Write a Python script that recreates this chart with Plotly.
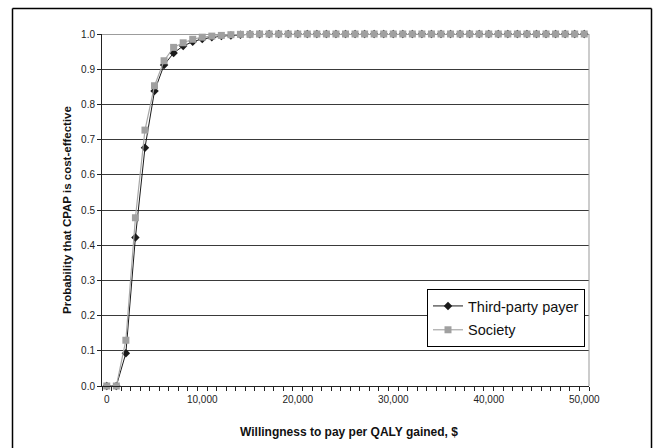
import plotly.graph_objects as go

wtp = [0, 1000, 2000, 3000, 4000, 5000, 6000, 7000, 8000, 9000,
       10000, 11000, 12000, 13000, 14000, 15000, 16000, 17000, 18000, 19000,
       20000, 21000, 22000, 23000, 24000, 25000, 26000, 27000, 28000, 29000,
       30000, 31000, 32000, 33000, 34000, 35000, 36000, 37000, 38000, 39000,
       40000, 41000, 42000, 43000, 44000, 45000, 46000, 47000, 48000, 49000,
       50000]

third_party = [0.0, 0.0, 0.093, 0.422, 0.677, 0.838, 0.912, 0.946, 0.966, 0.978,
               0.986, 0.991, 0.994, 0.996, 0.998, 0.999, 0.999, 1.0, 1.0, 1.0,
               1.0, 1.0, 1.0, 1.0, 1.0, 1.0, 1.0, 1.0, 1.0, 1.0,
               1.0, 1.0, 1.0, 1.0, 1.0, 1.0, 1.0, 1.0, 1.0, 1.0,
               1.0, 1.0, 1.0, 1.0, 1.0, 1.0, 1.0, 1.0, 1.0, 1.0,
               1.0]

society = [0.0, 0.0, 0.13, 0.478, 0.727, 0.853, 0.924, 0.962, 0.975, 0.985,
           0.991, 0.994, 0.996, 0.998, 0.999, 0.999, 1.0, 1.0, 1.0, 1.0,
           1.0, 1.0, 1.0, 1.0, 1.0, 1.0, 1.0, 1.0, 1.0, 1.0,
           1.0, 1.0, 1.0, 1.0, 1.0, 1.0, 1.0, 1.0, 1.0, 1.0,
           1.0, 1.0, 1.0, 1.0, 1.0, 1.0, 1.0, 1.0, 1.0, 1.0,
           1.0]

x_tick_vals = [0, 10000, 20000, 30000, 40000, 50000]
x_tick_text = ["0", "10,000", "20,000", "30,000", "40,000", "50,000"]
y_tick_vals = [0.0, 0.1, 0.2, 0.3, 0.4, 0.5, 0.6, 0.7, 0.8, 0.9, 1.0]

FONT = "Liberation Sans, Arial, sans-serif"

fig = go.Figure()
fig.add_trace(go.Scatter(
    x=wtp, y=third_party, name="Third-party payer", mode="lines+markers",
    line=dict(color="#1a1a1a", width=1),
    marker=dict(symbol="diamond", size=6.5, color="#1a1a1a"),
    cliponaxis=False, legendgroup="a"))
fig.add_trace(go.Scatter(
    x=wtp, y=society, name="Society", mode="lines+markers",
    line=dict(color="#a8a8a8", width=1.2),
    marker=dict(symbol="square", size=7, color="#a0a0a0"),
    cliponaxis=False, legendgroup="b"))

L, W, T, H = 102, 487, 34, 352


def px(xp):
    return (xp - L) / W


def py(yp):
    return (T + H - yp) / H


fig.update_layout(
    width=655, height=448,
    margin=dict(l=L, r=655 - L - W, t=T, b=448 - T - H, pad=0),
    paper_bgcolor="white", plot_bgcolor="white",
    font=dict(family=FONT, size=10, color="#222"),
    showlegend=True,
    legend=dict(x=px(427), y=py(289), xanchor="left", yanchor="top",
                bgcolor="white", bordercolor="#000", borderwidth=1,
                font=dict(family=FONT, size=14.5, color="#111"),
                traceorder="grouped", tracegroupgap=2, itemwidth=30),
    xaxis=dict(range=[-500, 50500], tickvals=x_tick_vals, ticktext=x_tick_text,
               ticks="outside", ticklen=4, tickcolor="rgba(0,0,0,0)",
               showgrid=False, zeroline=False, showline=True, linecolor="#222",
               linewidth=1,
               minor=dict(ticks="outside", ticklen=4, tick0=-500, dtick=1000,
                          tickcolor="#222", showgrid=False),
               tickfont=dict(size=10, color="#222")),
    yaxis=dict(range=[0, 1], tickvals=y_tick_vals, tickformat=".1f",
               ticks="outside", ticklen=4, tickcolor="#222",
               showgrid=True, gridcolor="#3a3a3a", gridwidth=1,
               zeroline=False, showline=True, linecolor="#222", linewidth=1,
               tickfont=dict(size=10, color="#222")),
    annotations=[
        dict(text="<b>Willingness to pay per QALY gained, $</b>", xref="paper", yref="paper",
             x=px(349), y=py(432), xanchor="center", yanchor="middle",
             showarrow=False, font=dict(family=FONT, size=12, color="#111")),
        dict(text="<b>Probability that CPAP is cost-effective</b>", xref="paper", yref="paper",
             x=px(67), y=py(210), xanchor="center", yanchor="middle", textangle=-90,
             showarrow=False, font=dict(family=FONT, size=11.5, color="#111")),
    ],
    shapes=[
        dict(type="line", xref="paper", yref="paper", x0=1, x1=1, y0=0, y1=1,
             line=dict(color="#999", width=1)),
        dict(type="line", xref="paper", yref="y", x0=0, x1=1, y0=1, y1=1,
             line=dict(color="#3a3a3a", width=1), layer="below"),
        dict(type="line", xref="paper", yref="paper", x0=px(12.5), x1=px(12.5),
             y0=py(8.5), y1=py(460), line=dict(color="#000", width=1.5)),
        dict(type="line", xref="paper", yref="paper", x0=px(651.5), x1=px(651.5),
             y0=py(8.5), y1=py(460), line=dict(color="#000", width=1.5)),
        dict(type="line", xref="paper", yref="paper", x0=px(12.5), x1=px(651.5),
             y0=py(8.5), y1=py(8.5), line=dict(color="#000", width=1.5)),
    ],
)

fig.write_html("out.html", config={"displayModeBar": False},
               post_script="document.body.style.margin='0';document.body.style.overflow='hidden';")
